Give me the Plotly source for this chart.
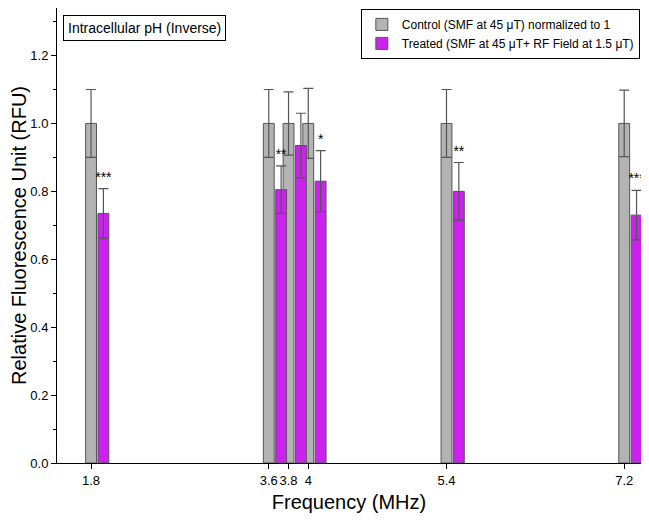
import plotly.graph_objects as go

# data
freqs = [1.8, 3.6, 3.8, 4.0, 5.4, 7.2]
freq_labels = ["1.8", "3.6", "3.8", "4", "5.4", "7.2"]
control = [1.0, 1.0, 1.0, 1.0, 1.0, 1.0]
control_err = [0.10, 0.10, 0.093, 0.103, 0.10, 0.098]
treated = [0.735, 0.805, 0.935, 0.83, 0.80, 0.73]
treated_err = [0.073, 0.07, 0.095, 0.09, 0.085, 0.073]
stars = ["***", "**", "", "*", "**", "***"]

bw = 0.11
fig = go.Figure()
fig.add_trace(go.Bar(
    x=freqs, y=control, width=bw,
    name="Control (SMF at 45 μT) normalized to 1",
    marker=dict(color="#b3b3b3", line=dict(color="#555555", width=1)),
    error_y=dict(type="data", array=control_err, color="#555555", thickness=1.2, width=5),
))
fig.add_trace(go.Bar(
    x=[f + 0.125 for f in freqs], y=treated, width=bw,
    name="Treated (SMF at 45 μT+ RF Field at 1.5 μT)",
    marker=dict(color="#cc22ee", line=dict(color="#555555", width=1)),
    error_y=dict(type="data", array=treated_err, color="#555555", thickness=1.2, width=5),
))
fig.add_trace(go.Scatter(
    x=[f + 0.125 for f in freqs],
    y=[t + e + 0.01 for t, e in zip(treated, treated_err)],
    text=stars, mode="text", textposition="top center", cliponaxis=False,
    textfont=dict(size=14, color="black"), showlegend=False, hoverinfo="skip",
))

axis_common = dict(showline=True, linecolor="black", linewidth=1, mirror=True,
                   ticks="outside", tickcolor="black", showgrid=False, zeroline=False,
                   tickfont=dict(size=13, color="black"))
fig.update_layout(
    width=633, height=514, plot_bgcolor="white", paper_bgcolor="white",
    font=dict(family="Arial, Liberation Sans, sans-serif", color="black"),
    margin=dict(l=49, r=0, t=0, b=59),
    barmode="overlay",
    xaxis=dict(range=[1.455, 7.37], tickvals=freqs, ticktext=freq_labels, tickangle=0,
               title=dict(text="Frequency (MHz)", font=dict(size=20), standoff=8), **axis_common),
    yaxis=dict(range=[0, 1.34], tickvals=[0, 0.2, 0.4, 0.6, 0.8, 1.0, 1.2], tickformat=".1f",
               minor=dict(ticks="outside", dtick=0.1, tickcolor="black"),
               title=dict(text="Relative Fluorescence Unit (RFU)", font=dict(size=20), standoff=4),
               **axis_common),
    legend=dict(x=0.998, y=0.998, xanchor="right", yanchor="top", bordercolor="black",
                borderwidth=1, bgcolor="white", font=dict(size=12), tracegroupgap=0),
    annotations=[dict(text="Intracellular pH (Inverse)", xref="paper", yref="paper",
                      x=0.01, y=0.985, xanchor="left", yanchor="top", showarrow=False,
                      font=dict(size=14), bordercolor="black", borderwidth=1, borderpad=4,
                      bgcolor="white")],
)
fig.write_html("out.html")
